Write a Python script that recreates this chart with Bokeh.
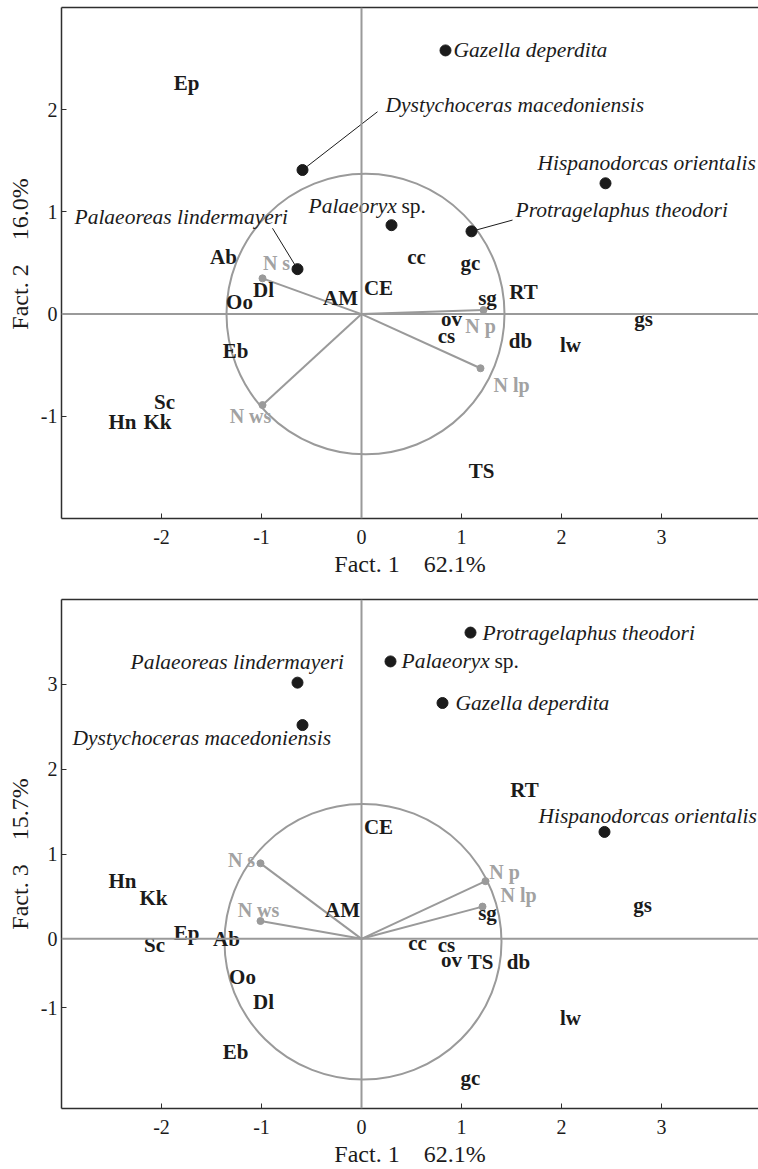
from bokeh.plotting import figure
from bokeh.layouts import column
from bokeh.models import (ColumnDataSource, Span, LinearAxis, FixedTicker,
                          CustomJSTickFormatter, Range1d)
from bokeh.core.properties import value
from bokeh.embed import file_html
from bokeh.resources import INLINE

# ---------------- data ----------------
var_names = ["Ep", "Ab", "Dl", "Oo", "AM", "CE", "cc", "gc", "sg", "RT",
             "ov", "cs", "db", "lw", "gs", "Eb", "Sc", "Hn", "Kk", "TS"]
# Fact.1 as placed in the upper and the lower panel
var_f1_a = [-1.75, -1.38, -0.98, -1.22, -0.21, 0.17, 0.55, 1.09, 1.26, 1.62,
            0.90, 0.85, 1.59, 2.09, 2.82, -1.26, -1.97, -2.39, -2.04, 1.20]
var_f2 = [2.26, 0.56, 0.235, 0.12, 0.16, 0.26, 0.56, 0.50, 0.16, 0.22,
          -0.05, -0.21, -0.26, -0.30, -0.05, -0.36, -0.86, -1.06, -1.06, -1.54]
var_f1_b = [-1.75, -1.35, -0.98, -1.19, -0.19, 0.17, 0.56, 1.09, 1.26, 1.63,
            0.90, 0.85, 1.57, 2.09, 2.81, -1.26, -2.07, -2.39, -2.08, 1.19]
var_f3 = [0.07, 0.00, -0.74, -0.45, 0.34, 1.32, -0.05, -1.64, 0.31, 1.75,
          -0.25, -0.07, -0.27, -0.93, 0.40, -1.33, -0.07, 0.68, 0.48, -0.27]

sp_names = ["Gazella deperdita", "Dystychoceras macedoniensis",
            "Hispanodorcas orientalis", "Protragelaphus theodori",
            "Palaeoryx sp.", "Palaeoreas lindermayeri"]
sp_f1_a = [0.84, -0.59, 2.44, 1.10, 0.30, -0.64]
sp_f2 = [2.58, 1.41, 1.28, 0.81, 0.87, 0.44]
sp_f1_b = [0.81, -0.59, 2.43, 1.09, 0.29, -0.64]
sp_f3 = [2.78, 2.52, 1.26, 3.61, 3.27, 3.02]

vec_names = ["N s", "N ws", "N p", "N lp"]
vec_f1_a = [-0.99, -0.99, 1.22, 1.19]
vec_f2 = [0.35, -0.89, 0.04, -0.53]
vec_f1_b = [-1.01, -1.01, 1.24, 1.21]
vec_f3 = [0.89, 0.21, 0.68, 0.38]

x_ticks = [-2, -1, 0, 1, 2, 3]
y_ticks_a = [-1, 0, 1, 2]
y_ticks_b = [-0.81, 0, 1, 2, 3]   # the original's "-1" tick sits at -0.81

# ---------------- layout / styling ----------------
SERIF = "Liberation Serif"
GREY = "#9a9a9a"
GREY_TXT = "#a2a2a2"
INK = "#1b1b1b"
FRAME = "#2e2e2e"
NB = "\u00a0"

# label anchors (left edge, vertical middle) and leader-line ends, in data units
SP_LAB_A = {
    "Gazella deperdita": (0.92, 2.58, None),
    "Dystychoceras macedoniensis": (0.24, 2.05, (0.16, 1.98)),
    "Hispanodorcas orientalis": (1.76, 1.48, None),
    "Protragelaphus theodori": (1.54, 1.02, (1.51, 0.92)),
    "Palaeoryx sp.": (-0.53, 1.06, None),
    "Palaeoreas lindermayeri": (-2.87, 0.95, (-0.89, 0.84)),
}
SP_LAB_B = {
    "Gazella deperdita": (0.94, 2.78, None),
    "Dystychoceras macedoniensis": (-2.89, 2.37, None),
    "Hispanodorcas orientalis": (1.77, 1.45, None),
    "Protragelaphus theodori": (1.21, 3.61, None),
    "Palaeoryx sp.": (0.40, 3.27, None),
    "Palaeoreas lindermayeri": (-2.31, 3.26, None),
}
VEC_LAB_A = {"N s": (-0.85, 0.50), "N ws": (-1.11, -1.00),
             "N p": (1.19, -0.12), "N lp": (1.50, -0.69)}
VEC_LAB_B = {"N s": (-1.20, 0.93), "N ws": (-1.03, 0.34),
             "N p": (1.43, 0.79), "N lp": (1.57, 0.52)}
CIRCLE_A = (0.04, 0.0, 2.78, 2.745)
CIRCLE_B = (0.015, -0.035, 2.77, 3.25)


def make_panel(height, yr, yticks, ylabel, f1, f2, sp1, sp2, v1, v2,
               sp_lab, vec_lab, circ, ylab_code, top_border, bottom_border):
    p = figure(width=758, height=height,
               x_range=Range1d(-3.0, 3.97), y_range=Range1d(*yr),
               output_backend="svg", toolbar_location=None,
               min_border_left=61, min_border_right=0, min_border_top=top_border,
               min_border_bottom=bottom_border,
               outline_line_color=None, background_fill_color="white",
               border_fill_color="white")
    p.grid.visible = False

    xa, ya = p.below[0], p.left[0]

    # top frame line
    top = LinearAxis(ticker=FixedTicker(ticks=[]), axis_line_color=FRAME,
                     axis_line_width=1.5, major_tick_line_color=None,
                     minor_tick_line_color=None, major_label_text_font_size="0px",
                     major_label_standoff=0)
    p.add_layout(top, "above")

    xa.ticker = FixedTicker(ticks=x_ticks)
    ya.ticker = FixedTicker(ticks=yticks)
    xa.formatter = CustomJSTickFormatter(code="return String(tick);")
    ya.formatter = CustomJSTickFormatter(code=ylab_code)
    xa.axis_label = "Fact. 1" + NB * 4 + "62.1%"
    ya.axis_label = ylabel
    for ax in (xa, ya):
        ax.axis_line_color = FRAME
        ax.axis_line_width = 1.5
        ax.major_tick_line_color = FRAME
        ax.major_tick_line_width = 1
        ax.major_tick_in = 5
        ax.major_tick_out = 0
        ax.minor_tick_line_color = None
        ax.major_label_text_font = SERIF
        ax.major_label_text_font_size = "20px"
        ax.major_label_text_color = INK
        ax.axis_label_text_font = SERIF
        ax.axis_label_text_font_size = "24px"
        ax.axis_label_text_font_style = "normal"
        ax.axis_label_text_color = INK
    xa.major_label_standoff = 11
    xa.axis_label_standoff = 4
    ya.major_label_standoff = 4
    ya.axis_label_standoff = 5

    # zero lines
    p.add_layout(Span(location=0, dimension="width", line_color=GREY, line_width=2))
    p.add_layout(Span(location=0, dimension="height", line_color=GREY, line_width=2))

    # correlation circle
    cx, cy, w, h = circ
    p.ellipse(x=[cx], y=[cy], width=[w], height=[h], fill_color=None,
              line_color=GREY, line_width=2)

    # variable vectors
    vsrc = ColumnDataSource(dict(x0=[0] * len(v1), y0=[0] * len(v1), x1=v1, y1=v2))
    p.segment(x0="x0", y0="y0", x1="x1", y1="y1", source=vsrc,
              line_color=GREY, line_width=2)
    p.scatter(x="x1", y="y1", source=vsrc, size=7, color=GREY)
    vl = ColumnDataSource(dict(x=[vec_lab[n][0] for n in vec_names],
                               y=[vec_lab[n][1] for n in vec_names], t=vec_names))
    p.text(x="x", y="y", text="t", source=vl, text_font=value(SERIF),
           text_font_style="bold", text_font_size="20px", text_color=GREY_TXT,
           text_align="center", text_baseline="middle")

    # leader lines
    lx0, ly0, lx1, ly1 = [], [], [], []
    for n, a, b in zip(sp_names, sp1, sp2):
        ld = sp_lab[n][2]
        if ld is not None:
            lx0.append(a); ly0.append(b); lx1.append(ld[0]); ly1.append(ld[1])
    if lx0:
        p.segment(x0=lx0, y0=ly0, x1=lx1, y1=ly1, line_color=INK, line_width=1)

    # species points
    p.scatter(x=sp1, y=sp2, size=11, color=INK)

    # species labels (italic; "sp." upright)
    it_x, it_y, it_t, up_x, up_y, up_t = [], [], [], [], [], []
    for n in sp_names:
        lx, ly, _ = sp_lab[n]
        if n.endswith(" sp."):
            it_x.append(lx); it_y.append(ly); it_t.append(n[:-4])
            up_x.append(lx); up_y.append(ly); up_t.append("sp.")
        else:
            it_x.append(lx); it_y.append(ly); it_t.append(n)
    p.text(x=it_x, y=it_y, text=it_t, text_font=value(SERIF),
           text_font_style="italic", text_font_size="21.5px", text_color=INK,
           text_align="left", text_baseline="middle")
    p.text(x=up_x, y=up_y, text=up_t, text_font=value(SERIF),
           text_font_style="normal", text_font_size="21.5px", text_color=INK,
           text_align="left", text_baseline="middle", x_offset=93)

    # variable (bold) labels
    bs = ColumnDataSource(dict(x=f1, y=f2, t=var_names))
    p.text(x="x", y="y", text="t", source=bs, text_font=value(SERIF),
           text_font_style="bold", text_font_size="21px", text_color=INK,
           text_align="center", text_baseline="middle")
    return p


p1 = make_panel(590, (-2.0, 3.0), y_ticks_a, NB * 3 + "Fact. 2" + NB * 4 + "16.0%",
                var_f1_a, var_f2, sp_f1_a, sp_f2, vec_f1_a, vec_f2,
                SP_LAB_A, VEC_LAB_A, CIRCLE_A, "return String(tick);", 7, 72)
p2 = make_panel(579, (-2.0, 4.0), y_ticks_b, "Fact. 3" + NB * 4 + "15.7%",
                var_f1_b, var_f3, sp_f1_b, sp_f3, vec_f1_b, vec_f3,
                SP_LAB_B, VEC_LAB_B, CIRCLE_B,
                "return (tick < -0.5 && tick > -0.9) ? '-1' : String(tick);", 9, 60)

layout = column(p1, p2)
open("out.html", "w").write(file_html(layout, INLINE))
